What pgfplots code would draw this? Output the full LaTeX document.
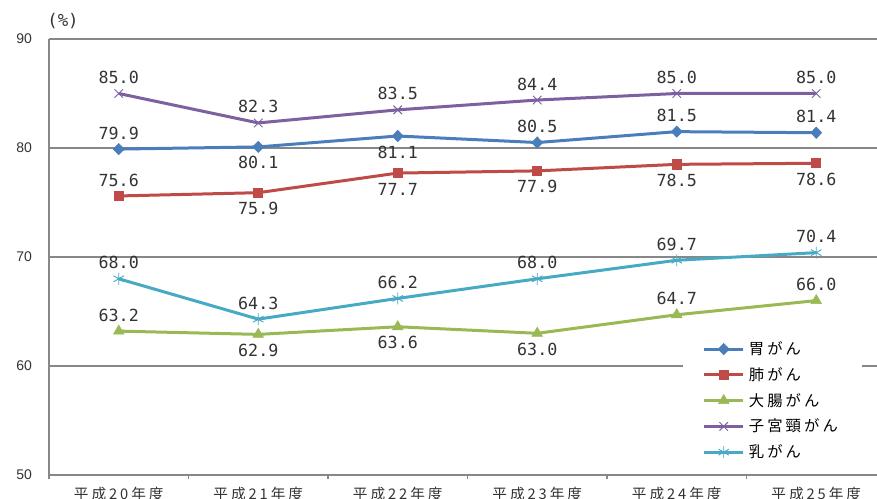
\documentclass[border=0pt]{standalone}
\usepackage{fontspec}
\setmainfont{Noto Sans CJK JP}
\newfontfamily\jpfont[LetterSpace=20]{Noto Sans CJK JP}
\newfontfamily\monofont{DejaVu Sans Mono}
\newfontfamily\tickfont{Liberation Sans}
\usepackage{pgfplots}
\usepackage{pgfplotstable}
\pgfplotsset{compat=1.18}
\definecolor{cBlue}{HTML}{4A7EBB}
\definecolor{cRed}{HTML}{BE4B48}
\definecolor{cGreen}{HTML}{98B954}
\definecolor{cPurple}{HTML}{7D60A0}
\definecolor{cCyan}{HTML}{46AAC5}
\definecolor{cGrid}{HTML}{878787}
\definecolor{cText}{HTML}{333333}

\pgfplotstableread{
x y d
0 79.9 12
1 80.1 -12
2 81.1 -12
3 80.5 12
4 81.5 12
5 81.4 12
}\tStomach
\pgfplotstableread{
x y d
0 75.6 12
1 75.9 -12
2 77.7 -12
3 77.9 -12
4 78.5 -12
5 78.6 -12
}\tLung
\pgfplotstableread{
x y d
0 63.2 12
1 62.9 -12
2 63.6 -12
3 63.0 -12
4 64.7 12
5 66.0 12
}\tColon
\pgfplotstableread{
x y d
0 85.0 12
1 82.3 12
2 83.5 12
3 84.4 12
4 85.0 12
5 85.0 12
}\tCervix
\pgfplotstableread{
x y d
0 68.0 12
1 64.3 12
2 66.2 12
3 68.0 12
4 69.7 12
5 70.4 12
}\tBreast

\begin{document}
\begin{tikzpicture}
\begin{axis}[
  scale only axis,
  width=627.75pt, height=327pt,
  xmin=-0.5, xmax=5.5,
  ymin=50, ymax=90,
  enlargelimits=false,
  clip=false,
  axis lines*=left,
  axis line style={cGrid, line width=0.8pt},
  ytick={50,60,70,80,90},
  ymajorgrids,
  grid style={cGrid, line width=0.8pt},
  major tick length=0pt,
  xtick={0,1,2,3,4,5},
  xticklabels={平成20年度,平成21年度,平成22年度,平成23年度,平成24年度,平成25年度},
  minor xtick={-0.5,0.5,1.5,2.5,3.5,4.5,5.5},
  minor tick length=3pt,
  tick align=outside,
  minor tick style={cGrid, line width=0.8pt},
  /pgf/number format/assume math mode=true,
  yticklabel style={font=\tickfont\fontsize{10.5}{12}\selectfont, text=cText, xshift=-9.25pt},
  xticklabel style={font=\jpfont\fontsize{11}{13}\selectfont, text=cText, yshift=-5.3pt},
  every axis plot/.append style={line width=2.25pt},
  nodes near coords={\pgfmathprintnumber[fixed,fixed zerofill,precision=1]{\pgfplotspointmeta}},
  visualization depends on={\thisrow{d} \as \dd},
  every node near coord/.append style={anchor=center, yshift=\dd pt, font=\monofont\fontsize{12.5}{12.5}\selectfont, text=cText},
  legend image code/.code={\draw[mark repeat=2,mark phase=2,#1] plot coordinates {(0pt,0pt) (14.5pt,0pt) (29pt,0pt)};},
  legend cell align=left,
  legend style={at={(0.757,0.335)}, anchor=north west, fill=white, draw=none,
    inner xsep=15pt, inner ysep=6pt, row sep=1.5pt,
    font=\jpfont\fontsize{11.5}{13}\selectfont, text=black,
    nodes={inner sep=3.3pt}},
]
\addplot[cBlue, mark=diamond*, mark size=4.2pt, mark options={solid, line width=0.5pt, xscale=1.3}] table[x=x,y=y] {\tStomach};
\addlegendentry{胃がん}
\addplot[cRed, mark=square*, mark size=3.4pt, mark options={solid, line width=0.5pt}] table[x=x,y=y] {\tLung};
\addlegendentry{肺がん}
\addplot[cGreen, mark=triangle*, mark size=4.5pt, mark options={solid, line width=0.5pt}] table[x=x,y=y] {\tColon};
\addlegendentry{大腸がん}
\addplot[cPurple, mark=x, mark size=4.5pt, mark options={solid, line width=0.7pt}] table[x=x,y=y] {\tCervix};
\addlegendentry{子宮頸がん}
\addplot[cCyan, mark=asterisk, mark size=4.5pt, mark options={solid, line width=0.7pt}] table[x=x,y=y] {\tBreast};
\addlegendentry{乳がん}
\coordinate (sw) at (rel axis cs:0,0);
\node[font=\monofont\fontsize{13}{13}\selectfont, text=cText, xshift=10.5pt, yshift=13.5pt] at (rel axis cs:0,1) {(\%)};
\end{axis}
\pgfresetboundingbox
\path[use as bounding box] (sw) ++(-36.75pt,-18pt) rectangle ++(657.75pt,374.25pt);
\end{tikzpicture}
\end{document}
